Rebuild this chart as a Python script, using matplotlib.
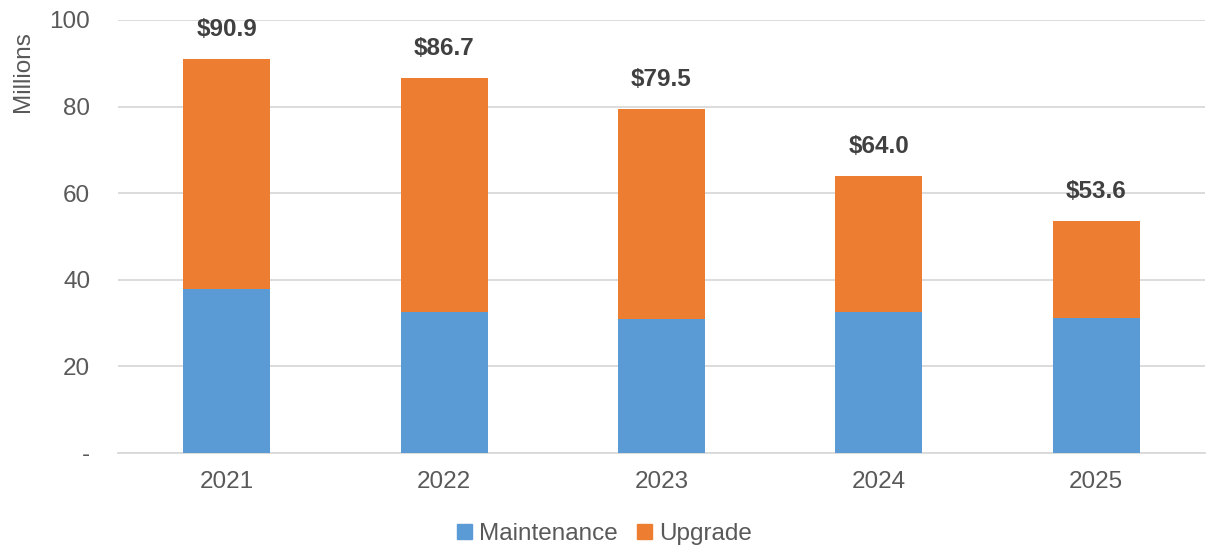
import matplotlib.pyplot as plt
from matplotlib.patches import Patch

years = ["2021", "2022", "2023", "2024", "2025"]
maintenance = [37.9, 32.6, 31.0, 32.6, 31.2]
totals = [90.9, 86.7, 79.5, 64.0, 53.6]
upgrade = [t - m for t, m in zip(totals, maintenance)]

plt.rcParams['font.family'] = ['Liberation Sans', 'DejaVu Sans']
txt = '#595959'

fig = plt.figure(figsize=(12.09, 5.48), dpi=100)
ax = fig.add_axes([118 / 1209, 1 - 453 / 548, 1087 / 1209, 433 / 548])

x = range(len(years))
ax.bar(x, maintenance, width=0.4, color='#5B9BD5', zorder=3)
ax.bar(x, upgrade, width=0.4, bottom=maintenance, color='#ED7D31', zorder=3)

for i, t in enumerate(totals):
    ax.annotate(f"${t:.1f}", (i, t), xytext=(0, 13), textcoords='offset points',
                ha='center', va='bottom', fontsize=17.5, fontweight='bold', color='#404040')

ax.set_xlim(-0.5, len(years) - 0.5)
ax.set_ylim(0, 100)
ax.set_yticks([0, 20, 40, 60, 80, 100])
ax.set_yticklabels(['-', '20', '40', '60', '80', '100'])
ax.set_xticks(list(x))
ax.set_xticklabels(years)
ax.tick_params(axis='both', length=0, labelsize=17.5, colors=txt)
ax.tick_params(axis='x', pad=13)
ax.tick_params(axis='y', pad=20)
ax.grid(axis='y', color='#D9D9D9', linewidth=1.3, zorder=0)
for s in ['top', 'right', 'left']:
    ax.spines[s].set_visible(False)
ax.spines['bottom'].set_color('#D9D9D9')
ax.spines['bottom'].set_linewidth(1.3)
ax.set_ylabel("Millions", fontsize=17.5, color=txt)
ax.yaxis.set_label_coords(-0.077, 0.88)

handles = [Patch(color='#5B9BD5', label='Maintenance'), Patch(color='#ED7D31', label='Upgrade')]
fig.legend(handles=handles, loc='center', bbox_to_anchor=(0.5, 1 - 534 / 548), ncol=2,
           frameon=False, fontsize=17.5, labelcolor=txt, handlelength=0.6, handleheight=0.6,
           handletextpad=0.3, columnspacing=0.8)

fig.savefig("out.png", dpi=100)
